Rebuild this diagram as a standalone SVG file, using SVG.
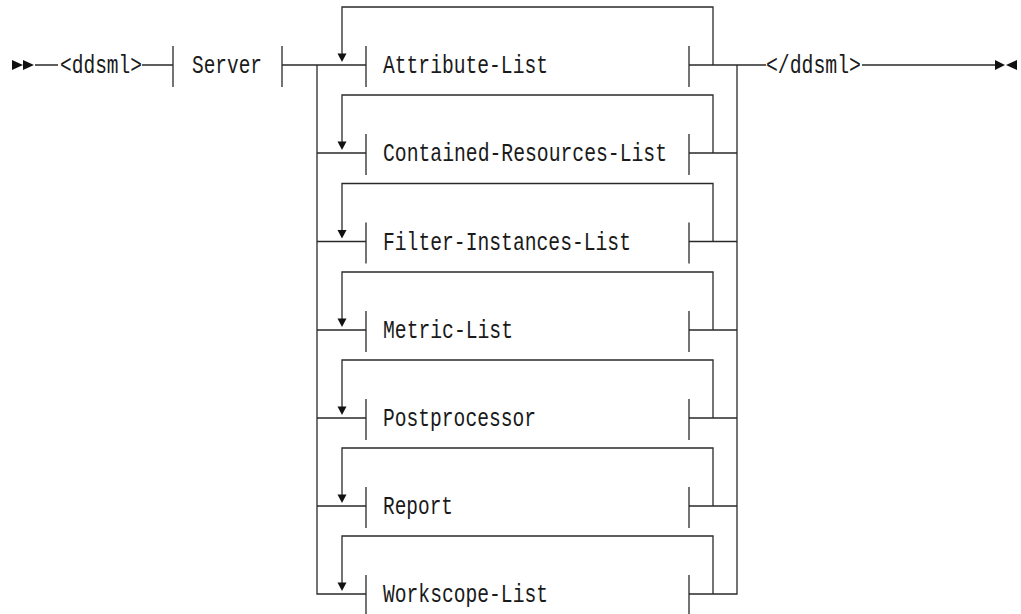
<svg xmlns="http://www.w3.org/2000/svg" width="1021" height="614" viewBox="0 0 1021 614">
<style>
.l{fill:none;stroke:#2a2a2a;stroke-width:1.3}
.t{font-family:"Liberation Mono","DejaVu Sans Mono",monospace;font-size:25px;fill:#1a1a1a}
.a{fill:#111}
</style>
<defs>
<path id="dn" class="a" d="M-4.5,0 L4.5,0 L0,8.5 Z"/>
</defs>
<rect width="1021" height="614" fill="#fff"/>
<g id="connectors">
<path class="l" d="M35,65 H58 M142,65 H173 M282,65 H366 M689,65 H766 M862,65 H996"/>
<path class="l" d="M317,65 V594 H366"/>
<path class="l" d="M737,65 V594 H689"/>
<path class="l" d="M317,153 H366 M317,241.5 H366 M317,330 H366 M317,418 H366 M317,506 H366"/>
<path class="l" d="M737,153 H689 M737,241.5 H689 M737,330 H689 M737,418 H689 M737,506 H689"/>
<path class="l" d="M713,65 V7 H342 V54 M713,153 V95 H342 V142 M713,241.5 V183.5 H342 V230 M713,330 V272 H342 V319 M713,418 V360 H342 V407 M713,506 V448 H342 V495 M713,594 V536 H342 V583"/>
<use href="#dn" x="342" y="53.5"/>
<use href="#dn" x="342" y="141.5"/>
<use href="#dn" x="342" y="230"/>
<use href="#dn" x="342" y="318.5"/>
<use href="#dn" x="342" y="406.5"/>
<use href="#dn" x="342" y="494.5"/>
<use href="#dn" x="342" y="582.5"/>
</g>
<g id="start"><path class="a" d="M12,60 L23,65 L12,70 Z M23,60 L34,65 L23,70 Z"/></g>
<g id="ddsml-open"><text class="t" x="60" y="73" textLength="82" lengthAdjust="spacingAndGlyphs">&lt;ddsml&gt;</text></g>
<g id="server"><path class="l" d="M173,46 V87 M282,46 V87"/><text class="t" x="192" y="73" textLength="70" lengthAdjust="spacingAndGlyphs">Server</text></g>
<g id="attribute-list"><path class="l" d="M366,46 V87 M689,46 V87"/><text class="t" x="383" y="73" textLength="165" lengthAdjust="spacingAndGlyphs">Attribute-List</text></g>
<g id="contained-resources-list"><path class="l" d="M366,134 V175 M689,134 V175"/><text class="t" x="383" y="161" textLength="284" lengthAdjust="spacingAndGlyphs">Contained-Resources-List</text></g>
<g id="filter-instances-list"><path class="l" d="M366,222.5 V263.5 M689,222.5 V263.5"/><text class="t" x="383" y="249.5" textLength="248" lengthAdjust="spacingAndGlyphs">Filter-Instances-List</text></g>
<g id="metric-list"><path class="l" d="M366,311 V352 M689,311 V352"/><text class="t" x="383" y="338" textLength="130" lengthAdjust="spacingAndGlyphs">Metric-List</text></g>
<g id="postprocessor"><path class="l" d="M366,399 V440 M689,399 V440"/><text class="t" x="383" y="426" textLength="153" lengthAdjust="spacingAndGlyphs">Postprocessor</text></g>
<g id="report"><path class="l" d="M366,487 V528 M689,487 V528"/><text class="t" x="383" y="514" textLength="70" lengthAdjust="spacingAndGlyphs">Report</text></g>
<g id="workscope-list"><path class="l" d="M366,575 V616 M689,575 V616"/><text class="t" x="383" y="602" textLength="165" lengthAdjust="spacingAndGlyphs">Workscope-List</text></g>
<g id="ddsml-close"><text class="t" x="766" y="73" textLength="95" lengthAdjust="spacingAndGlyphs">&lt;/ddsml&gt;</text></g>
<g id="end"><path class="a" d="M995,60 L1005,65 L995,70 Z M1017,60 L1006,65 L1017,70 Z"/></g>
</svg>
